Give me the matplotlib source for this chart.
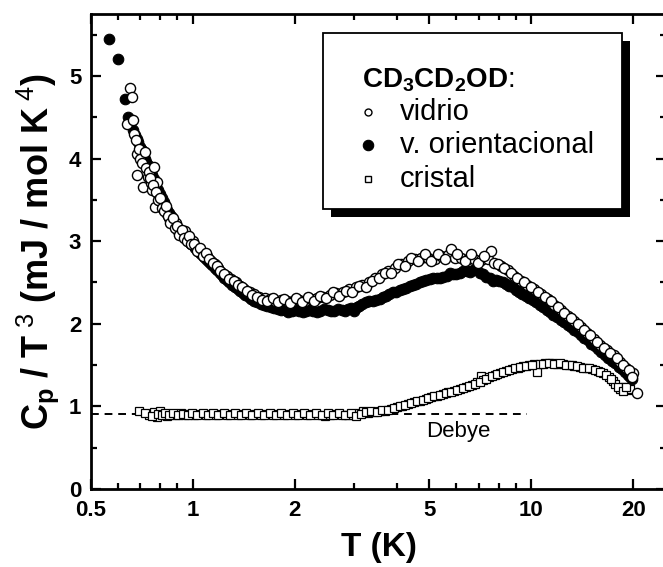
import matplotlib
matplotlib.use("Agg")
import matplotlib.pyplot as plt
from matplotlib.patches import Rectangle
from matplotlib.ticker import FixedLocator, FixedFormatter, NullFormatter

plt.rcParams['font.family'] = ['Liberation Sans', 'DejaVu Sans']
plt.rcParams['mathtext.fontset'] = 'custom'
plt.rcParams['mathtext.rm'] = 'Liberation Sans'
plt.rcParams['mathtext.bf'] = 'Liberation Sans:bold'
plt.rcParams['mathtext.it'] = 'Liberation Sans:italic'

# ---------------- data ----------------
# glass (vidrio), run a
T_vidrio = [0.640, 0.654, 0.663, 0.667, 0.672, 0.677, 0.683, 0.686, 0.694, 0.700,
            0.706, 0.714, 0.720, 0.727, 0.735, 0.742, 0.750, 0.758, 0.770, 0.775,
            0.785, 0.795, 0.805, 0.815, 0.828, 0.840, 0.852, 0.865, 0.878, 0.892,
            0.905, 0.920, 0.935, 0.950, 0.965, 0.980, 1.00, 1.02, 1.04, 1.06,
            1.08, 1.10, 1.13, 1.16, 1.19, 1.22, 1.26, 1.30, 1.34, 1.38,
            1.42, 1.47, 1.52, 1.57, 1.63, 1.69, 1.75, 1.82, 1.90, 1.98,
            2.06, 2.15, 2.24, 2.33, 2.43, 2.54, 2.65, 2.77, 2.90, 3.03,
            3.17, 3.31, 3.46, 3.62, 3.78, 3.95, 4.13, 4.32, 4.52, 4.73,
            4.95, 5.18, 5.42, 5.67, 5.80, 5.93, 6.20, 6.49, 6.79, 7.10,
            7.43, 7.60, 7.77, 8.13, 8.51, 8.90, 9.31, 9.74, 10.2, 10.7,
            11.2, 11.7, 12.2, 12.8, 13.4, 14.0, 14.6, 15.3, 16.0, 16.7,
            17.5, 18.3, 19.1, 19.6, 20.0, 20.5]
C_vidrio = [4.42, 4.86, 4.74, 4.47, 4.30, 4.23, 4.05, 3.80, 4.12, 4.00,
            3.95, 3.65, 4.08, 3.88, 3.78, 3.84, 3.70, 3.62, 3.90, 3.41,
            3.72, 3.55, 3.48, 3.44, 3.38, 3.33, 3.28, 3.25, 3.20, 3.22,
            3.12, 3.10, 3.07, 3.12, 3.02, 2.98, 3.00, 2.93, 2.90, 2.86,
            2.83, 2.82, 2.76, 2.72, 2.68, 2.62, 2.58, 2.54, 2.50, 2.46,
            2.42, 2.38, 2.36, 2.32, 2.31, 2.30, 2.28, 2.29, 2.27, 2.28,
            2.29, 2.28, 2.30, 2.31, 2.33, 2.35, 2.37, 2.38, 2.42, 2.44,
            2.47, 2.50, 2.55, 2.60, 2.64, 2.68, 2.72, 2.76, 2.79, 2.80,
            2.80, 2.78, 2.82, 2.83, 2.90, 2.80, 2.80, 2.79, 2.78, 2.77,
            2.78, 2.88, 2.74, 2.70, 2.65, 2.58, 2.52, 2.47, 2.42, 2.36,
            2.30, 2.23, 2.17, 2.10, 2.03, 1.96, 1.89, 1.82, 1.74, 1.68,
            1.62, 1.54, 1.46, 1.42, 1.40, 1.16]
# glass (vidrio), run b
T_vidrio_b = [0.746, 0.762, 0.780, 0.790, 0.800, 0.810, 0.822, 0.834, 0.846, 0.858,
              0.872, 0.885, 0.898, 0.912, 0.928, 0.943, 0.958, 0.972, 0.990, 1.01,
              1.03, 1.05, 1.07, 1.09, 1.115, 1.145, 1.175, 1.205, 1.24, 1.28,
              1.32, 1.36, 1.40, 1.445, 1.495, 1.545, 1.60, 1.66, 1.72, 1.785,
              1.86, 1.94, 2.02, 2.10, 2.19, 2.28, 2.38, 2.48, 2.59, 2.71,
              2.83, 2.96, 3.10, 3.24, 3.38, 3.54, 3.70, 3.86, 4.04, 4.22,
              4.42, 4.62, 4.84, 5.06, 5.30, 5.55, 6.05, 6.35, 6.64, 6.95,
              7.27, 7.95, 8.32, 8.70, 9.10, 9.52, 9.97, 10.45, 10.95, 11.45,
              11.95, 12.5, 13.1, 13.7, 14.3, 14.95, 15.65, 16.35, 17.1, 17.9,
              18.7, 19.4, 19.8]
C_vidrio_b = [3.76, 3.68, 3.60, 3.50, 3.52, 3.40, 3.36, 3.42, 3.30, 3.22,
              3.28, 3.16, 3.18, 3.08, 3.14, 3.04, 3.00, 3.06, 2.96, 2.97,
              2.88, 2.92, 2.82, 2.86, 2.78, 2.74, 2.70, 2.64, 2.60, 2.54,
              2.52, 2.47, 2.44, 2.40, 2.35, 2.33, 2.29, 2.28, 2.31, 2.26,
              2.30, 2.25, 2.31, 2.26, 2.32, 2.27, 2.34, 2.31, 2.38, 2.34,
              2.40, 2.38, 2.46, 2.44, 2.52, 2.56, 2.62, 2.62, 2.72, 2.70,
              2.80, 2.76, 2.84, 2.76, 2.84, 2.78, 2.84, 2.76, 2.84, 2.74,
              2.82, 2.72, 2.67, 2.62, 2.55, 2.50, 2.44, 2.39, 2.33, 2.27,
              2.20, 2.13, 2.07, 2.00, 1.92, 1.86, 1.78, 1.71, 1.65, 1.58,
              1.50, 1.44, 1.36]

# orientational glass, run a
T_orient = [0.567, 0.600, 0.629, 0.645, 0.655, 0.665, 0.675, 0.690, 0.705, 0.720,
            0.735, 0.750, 0.765, 0.780, 0.800, 0.820, 0.840, 0.860, 0.880, 0.900,
            0.925, 0.950, 0.975, 1.00, 1.03, 1.06, 1.09, 1.12, 1.16, 1.20,
            1.24, 1.28, 1.33, 1.38, 1.43, 1.49, 1.55, 1.62, 1.70, 1.78,
            1.87, 1.96, 2.06, 2.16, 2.27, 2.38, 2.50, 2.62, 2.75, 2.88,
            3.00, 3.10, 3.25, 3.40, 3.56, 3.73, 3.90, 4.08, 4.27, 4.47,
            4.68, 4.90, 5.13, 5.37, 5.62, 5.88, 6.15, 6.44, 6.73, 7.04,
            7.36, 7.70, 8.05, 8.42, 8.80, 9.20, 9.62, 10.1, 10.6, 11.1,
            11.6, 12.2, 12.8, 13.4, 14.0, 14.7, 15.4, 16.1, 16.9, 17.7,
            18.5, 19.3, 19.8]
C_orient = [5.45, 5.21, 4.72, 4.50, 4.44, 4.35, 4.28, 4.20, 4.10, 4.00,
            3.92, 3.85, 3.75, 3.66, 3.57, 3.48, 3.38, 3.30, 3.22, 3.16,
            3.10, 3.05, 3.00, 2.95, 2.90, 2.84, 2.79, 2.74, 2.68, 2.62,
            2.56, 2.50, 2.44, 2.40, 2.35, 2.30, 2.26, 2.23, 2.20, 2.18,
            2.17, 2.16, 2.16, 2.15, 2.15, 2.16, 2.17, 2.16, 2.17, 2.18,
            2.15, 2.22, 2.26, 2.28, 2.30, 2.34, 2.38, 2.41, 2.43, 2.47,
            2.50, 2.53, 2.55, 2.56, 2.58, 2.60, 2.62, 2.64, 2.65, 2.62,
            2.57, 2.52, 2.52, 2.48, 2.44, 2.39, 2.34, 2.29, 2.23, 2.17,
            2.11, 2.05, 1.99, 1.93, 1.87, 1.80, 1.73, 1.66, 1.59, 1.52,
            1.45, 1.38, 1.33]
# orientational glass, run b
T_orient_b = [0.682, 0.697, 0.712, 0.727, 0.742, 0.757, 0.772, 0.790, 0.810, 0.830,
              0.850, 0.870, 0.890, 0.912, 0.937, 0.962, 0.987, 1.015, 1.045, 1.075,
              1.105, 1.14, 1.18, 1.22, 1.26, 1.305, 1.355, 1.405, 1.46, 1.52,
              1.585, 1.66, 1.74, 1.825, 1.915, 2.01, 2.11, 2.21, 2.32, 2.44,
              2.56, 2.68, 2.81, 2.94, 3.05, 3.17, 3.32, 3.48, 3.64, 3.81,
              3.99, 4.17, 4.37, 4.57, 4.79, 5.01, 5.25, 5.50, 5.75, 6.01,
              6.30, 6.58, 6.88, 7.20, 7.53, 7.87, 8.23, 8.61, 9.00, 9.41,
              9.85, 10.35, 10.85, 11.35, 11.9, 12.5, 13.1, 13.7, 14.35, 15.05,
              15.75, 16.5, 17.3, 18.1, 18.9, 19.6]
C_orient_b = [4.24, 4.14, 4.05, 3.96, 3.88, 3.80, 3.70, 3.62, 3.52, 3.43,
              3.34, 3.26, 3.19, 3.13, 3.07, 3.02, 2.97, 2.92, 2.87, 2.81,
              2.76, 2.71, 2.65, 2.59, 2.53, 2.47, 2.42, 2.37, 2.32, 2.28,
              2.24, 2.21, 2.19, 2.17, 2.14, 2.17, 2.14, 2.17, 2.14, 2.18,
              2.15, 2.18, 2.15, 2.19, 2.20, 2.24, 2.27, 2.29, 2.33, 2.36,
              2.39, 2.42, 2.46, 2.48, 2.52, 2.54, 2.56, 2.57, 2.61, 2.60,
              2.64, 2.63, 2.66, 2.60, 2.56, 2.53, 2.50, 2.46, 2.41, 2.36,
              2.31, 2.26, 2.20, 2.14, 2.08, 2.02, 1.96, 1.90, 1.83, 1.76,
              1.70, 1.62, 1.55, 1.48, 1.42, 1.35]

# crystal, run a
T_cristal = [0.695, 0.74, 0.77, 0.785, 0.80, 0.82, 0.84, 0.86, 0.89, 0.92,
             0.95, 0.98, 1.01, 1.05, 1.09, 1.13, 1.17, 1.21, 1.26, 1.31,
             1.36, 1.41, 1.47, 1.53, 1.59, 1.65, 1.72, 1.79, 1.86, 1.93,
             2.01, 2.09, 2.17, 2.26, 2.35, 2.45, 2.55, 2.65, 2.76, 2.87,
             2.98, 3.10, 3.18, 3.30, 3.43, 3.56, 3.70, 3.85, 4.00, 4.16,
             4.33, 4.50, 4.68, 4.87, 5.06, 5.26, 5.47, 5.69, 5.92, 6.15,
             6.40, 6.66, 6.93, 7.10, 7.20, 7.49, 7.79, 8.10, 8.42, 8.76,
             9.11, 9.47, 9.85, 10.2, 10.4, 10.6, 11.0, 11.5, 11.9, 12.4,
             12.9, 13.4, 13.9, 14.5, 15.1, 15.7, 16.3, 17.0, 17.4, 17.7,
             18.3, 18.8, 19.3, 19.6]
C_cristal = [0.94, 0.90, 0.93, 0.87, 0.94, 0.90, 0.88, 0.91, 0.90, 0.92,
             0.90, 0.91, 0.90, 0.91, 0.90, 0.91, 0.90, 0.91, 0.90, 0.91,
             0.90, 0.91, 0.90, 0.91, 0.90, 0.91, 0.90, 0.91, 0.90, 0.91,
             0.90, 0.91, 0.90, 0.91, 0.90, 0.88, 0.90, 0.91, 0.90, 0.90,
             0.89, 0.92, 0.95, 0.92, 0.93, 0.94, 0.95, 0.97, 0.99, 1.01,
             1.03, 1.05, 1.07, 1.09, 1.11, 1.13, 1.15, 1.17, 1.19, 1.21,
             1.23, 1.26, 1.29, 1.37, 1.32, 1.35, 1.38, 1.41, 1.43, 1.45,
             1.47, 1.49, 1.50, 1.51, 1.42, 1.51, 1.52, 1.52, 1.51, 1.51,
             1.50, 1.49, 1.48, 1.47, 1.45, 1.43, 1.40, 1.36, 1.31, 1.27,
             1.21, 1.23, 1.20, 1.21]
# crystal, run b
T_cristal_b = [0.72, 0.755, 0.79, 0.81, 0.83, 0.85, 0.875, 0.905, 0.935, 0.965,
               0.995, 1.03, 1.07, 1.11, 1.15, 1.19, 1.235, 1.285, 1.335, 1.385,
               1.44, 1.50, 1.56, 1.62, 1.685, 1.755, 1.825, 1.895, 1.97, 2.05,
               2.13, 2.215, 2.305, 2.40, 2.50, 2.60, 2.705, 2.815, 2.925, 3.04,
               3.14, 3.24, 3.36, 3.49, 3.63, 3.77, 3.92, 4.08, 4.24, 4.41,
               4.59, 4.77, 4.96, 5.16, 5.36, 5.58, 5.80, 6.03, 6.27, 6.53,
               6.80, 7.06, 7.34, 7.64, 7.94, 8.26, 8.59, 8.93, 9.29, 9.66,
               10.05, 10.8, 11.25, 11.7, 12.15, 12.65, 13.15, 13.65, 14.2, 14.8,
               15.4, 16.0, 16.65, 17.2, 18.0, 18.6, 19.1]
C_cristal_b = [0.92, 0.88, 0.91, 0.89, 0.92, 0.89, 0.92, 0.89, 0.91, 0.89,
               0.92, 0.89, 0.92, 0.89, 0.92, 0.89, 0.92, 0.89, 0.92, 0.89,
               0.92, 0.89, 0.92, 0.89, 0.92, 0.89, 0.92, 0.89, 0.92, 0.89,
               0.92, 0.89, 0.92, 0.89, 0.92, 0.89, 0.92, 0.89, 0.92, 0.88,
               0.91, 0.93, 0.94, 0.93, 0.96, 0.96, 0.98, 1.00, 1.02, 1.04,
               1.06, 1.08, 1.10, 1.12, 1.14, 1.16, 1.18, 1.20, 1.22, 1.25,
               1.27, 1.30, 1.33, 1.37, 1.39, 1.42, 1.44, 1.46, 1.48, 1.49,
               1.50, 1.51, 1.52, 1.51, 1.52, 1.50, 1.50, 1.49, 1.47, 1.46,
               1.44, 1.42, 1.38, 1.33, 1.24, 1.19, 1.24]

debye_T = [0.5, 9.7]
debye_C = [0.91, 0.91]

x_ticks = [0.5, 1, 2, 5, 10, 20]
x_ticklabels = ['0.5', '1', '2', '5', '10', '20']
x_minor = [0.6, 0.7, 0.8, 0.9, 3, 4, 6, 7, 8, 9]
y_ticks = [0, 1, 2, 3, 4, 5]
y_minor = [0.5, 1.5, 2.5, 3.5, 4.5, 5.5]

legend_title = r'$\mathbf{CD_3CD_2OD}$:'
legend_labels = ['vidrio', 'v. orientacional', 'cristal']

# ---------------- figure ----------------
W, H = 663, 567
fig = plt.figure(figsize=(W / 100, H / 100), dpi=100)
fig.patch.set_facecolor('white')

def fx(px):
    return px / W

def fy(py):
    return 1 - py / H

ax_l, ax_r, ax_t, ax_b = 91, 666, 14, 489
ax = fig.add_axes([fx(ax_l), fy(ax_b), (ax_r - ax_l) / W, (ax_b - ax_t) / H])

ax.set_xscale('log')
ax.set_xlim(0.5, 25)
ax.set_ylim(0, 5.75)

ax.plot(debye_T, debye_C, color='black', lw=1.4, dashes=(4, 3), zorder=1)

sq = dict(linestyle='none', marker='s', markersize=5.4, markerfacecolor='white',
          markeredgecolor='black', markeredgewidth=0.9, zorder=2)
ax.plot(T_cristal, C_cristal, **sq)
ax.plot(T_cristal_b, C_cristal_b, **sq)

fc = dict(linestyle='none', marker='o', markersize=7.6, markerfacecolor='black',
          markeredgecolor='black', markeredgewidth=0.8, zorder=3)
ax.plot(T_orient, C_orient, **fc)
ax.plot(T_orient_b, C_orient_b, **fc)

oc = dict(linestyle='none', marker='o', markersize=7.3, markerfacecolor='white',
          markeredgecolor='black', markeredgewidth=1.0, zorder=4)
ax.plot(T_vidrio, C_vidrio, **oc)
ax.plot(T_vidrio_b, C_vidrio_b, **oc)

ax.text(6.1, 0.70, 'Debye', fontsize=16, ha='center', va='center')

# ticks
ax.xaxis.set_major_locator(FixedLocator(x_ticks))
ax.xaxis.set_major_formatter(FixedFormatter(x_ticklabels))
ax.xaxis.set_minor_locator(FixedLocator(x_minor))
ax.xaxis.set_minor_formatter(NullFormatter())
ax.yaxis.set_major_locator(FixedLocator(y_ticks))
ax.yaxis.set_minor_locator(FixedLocator(y_minor))

ax.tick_params(which='both', direction='in', top=True, right=True, width=1.6)
ax.tick_params(which='major', length=7.5, labelsize=16)
ax.tick_params(axis='x', which='major', pad=8)
ax.tick_params(axis='y', which='major', pad=7)
ax.tick_params(which='minor', length=4)
for lab in ax.get_xticklabels() + ax.get_yticklabels():
    lab.set_fontweight('bold')
for s in ax.spines.values():
    s.set_linewidth(2.0)

ax.set_xlabel('T (K)', fontsize=24, fontweight='bold', labelpad=8)
ax.set_ylabel(r'$\mathbf{C_p}$ / T$^{\ 3}$ (mJ / mol K$^{\ 4}$)', fontsize=26,
              fontweight='bold', labelpad=6)

# legend box with shadow
bx0, by0, bx1, by1 = 323, 33, 622, 209
shadow = Rectangle((fx(bx0 + 8), fy(by1 + 8)), (bx1 - bx0) / W, (by1 - by0) / H,
                   transform=fig.transFigure, facecolor='black', edgecolor='black',
                   lw=0, zorder=10)
box = Rectangle((fx(bx0), fy(by1)), (bx1 - bx0) / W, (by1 - by0) / H,
                transform=fig.transFigure, facecolor='white', edgecolor='black',
                lw=1.3, zorder=11)
fig.add_artist(shadow)
fig.add_artist(box)

fig.text(fx(362), fy(87), legend_title, fontsize=20, fontweight='normal',
         ha='left', va='baseline', zorder=12)
ys = [112, 145, 179]
mk = [dict(marker='o', ms=5, mfc='white', mec='black', mew=1.0),
      dict(marker='o', ms=7.5, mfc='black', mec='black', mew=0.8),
      dict(marker='s', ms=4.2, mfc='white', mec='black', mew=1.0)]
for yy, lab, m in zip(ys, legend_labels, mk):
    fig.lines.append(plt.Line2D([fx(368)], [fy(yy)], transform=fig.transFigure,
                                linestyle='none', zorder=12, **m))
    fig.text(fx(400), fy(yy), lab, fontsize=21, ha='left', va='center', zorder=12)

fig.savefig('out.png', dpi=100)
